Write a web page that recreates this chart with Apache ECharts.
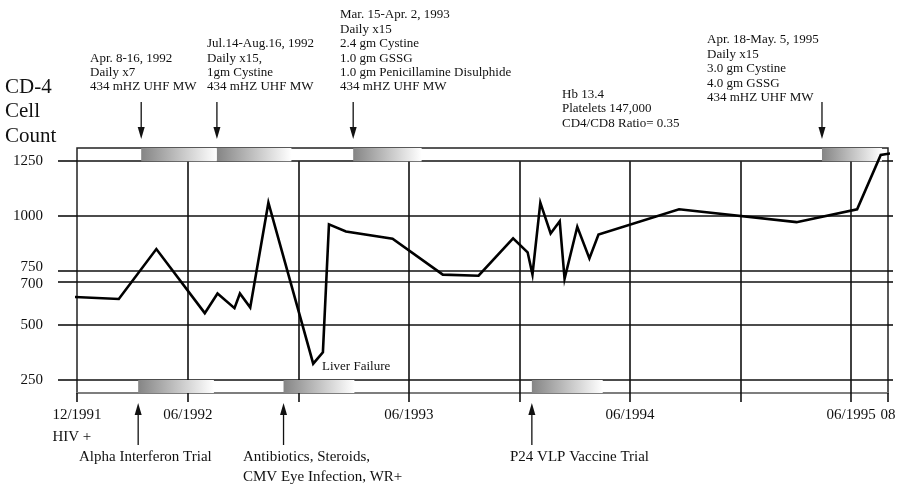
<!DOCTYPE html>
<html><head><meta charset="utf-8">
<script src="https://cdn.jsdelivr.net/npm/echarts@6/dist/echarts.min.js"></script>
<style>html,body{margin:0;padding:0;background:#fff}#c{width:902px;height:485px}</style>
</head><body><div id="c"></div>
<script>
// ---- data ----
const dates = ['1991-11-18','1992-02-08','1992-04-10','1992-06-29','1992-07-20','1992-08-17','1992-08-26','1992-09-12','1992-10-12','1992-12-25','1993-01-10','1993-01-20','1993-02-17','1993-05-05','1993-07-27','1993-09-24','1993-11-20','1993-12-14','1993-12-22','1994-01-04','1994-01-21','1994-02-05','1994-02-13','1994-03-06','1994-03-26','1994-04-10','1994-08-21','1995-03-03','1995-06-11','1995-07-20','1995-08-23'];
const cd4 = [630,620,848,555,645,578,645,581,1060,324,376,961,928,895,731,726,897,833,732,1060,919,975,712,950,805,914,1030,971,1030,1278,1293];

const yTicks = [250,500,700,750,1000,1250];
const xTickDates = ['1991-12-01','1992-06-01','1992-12-01','1993-06-01','1993-12-01','1994-06-01','1994-12-01','1995-06-01','1995-08-01'];
const xInnerGridDates = ['1992-06-01','1992-12-01','1993-06-01','1993-12-01','1994-06-01','1994-12-01','1995-06-01'];
const xLabelDates = ['1991-12-01','1992-06-01','1993-06-01','1994-06-01','1995-06-01','1995-08-01'];
const xLabelTexts = ['12/1991\nHIV +','06/1992','06/1993','06/1994','06/1995','08'];

const topBarStart = ['1992-03-16','1992-07-19','1993-03-01','1995-04-14'];
const topBarEnd   = ['1992-07-19','1992-11-19','1993-06-22','1995-07-22'];
const bottomBarStart = ['1992-03-11','1992-11-06','1993-12-21'];
const bottomBarEnd   = ['1992-07-14','1993-03-03','1994-04-17'];

const topNotes = [
  ['Apr. 8-16, 1992','Daily x7','434 mHZ UHF MW'],
  ['Jul.14-Aug.16, 1992','Daily x15,','1gm Cystine','434 mHZ UHF MW'],
  ['Mar. 15-Apr. 2, 1993','Daily x15','2.4 gm Cystine','1.0 gm GSSG','1.0 gm Penicillamine Disulphide','434 mHZ UHF MW'],
  ['Hb 13.4','Platelets 147,000','CD4/CD8 Ratio= 0.35'],
  ['Apr. 18-May. 5, 1995','Daily x15','3.0 gm Cystine','4.0 gm GSSG','434 mHZ UHF MW']
];
const bottomNotes = [['Alpha Interferon Trial'],['Antibiotics, Steroids,','CMV Eye Infection, WR+'],['P24 VLP Vaccine Trial']];
const yTitle = ['CD-4','Cell','Count'];
const liverNote = 'Liver Failure';

// ---- layout ----
const FONT = '"Liberation Serif","Times New Roman",serif';
const INK = '#111';
const Y_MIN = 190, Y_MAX = 1310;
const ts = d => { const p = d.split('-').map(Number); return Date.UTC(p[0], p[1]-1, p[2]); };

const chart = echarts.init(document.getElementById('c'), null, {renderer:'canvas'});

const barGrad = {type:'linear', x:0, y:0, x2:1, y2:0, colorStops:[{offset:0,color:'#858585'},{offset:1,color:'#ffffff'}]};

const hLines = yTicks.map(v => ({yAxis: v}));
const vLines = xInnerGridDates.map(d => [{coord:[ts(d), 1250]}, {coord:[ts(d), Y_MIN]}]);
const areas = [];
topBarStart.forEach((d,i) => areas.push([{xAxis: ts(d), yAxis: 1250, itemStyle:{color: barGrad}}, {xAxis: ts(topBarEnd[i]), yAxis: Y_MAX}]));
bottomBarStart.forEach((d,i) => areas.push([{xAxis: ts(d), yAxis: Y_MIN, itemStyle:{color: barGrad}}, {xAxis: ts(bottomBarEnd[i]), yAxis: 250}]));

const labelTs = xLabelDates.map(ts);

chart.setOption({
  animation: false,
  backgroundColor: '#fff',
  grid: {left: 77, right: 14, top: 148, bottom: 92, show: true, borderColor: '#222', borderWidth: 1.5, backgroundColor: 'transparent'},
  xAxis: {
    type: 'value', min: ts('1991-12-01'), max: ts('1995-08-01'), scale: true,
    axisLine: {show: true, lineStyle: {color: '#8a8a8a', width: 1.5}},
    axisTick: {show: true, length: 9, customValues: xTickDates.map(ts), lineStyle: {color: INK, width: 1.6}},
    splitLine: {show: false},
    axisLabel: {
      customValues: labelTs, margin: 11, fontFamily: FONT, fontSize: 15, color: INK, lineHeight: 22,
      showMinLabel: true, showMaxLabel: true, hideOverlap: false,
      formatter: v => {
        const i = labelTs.indexOf(v);
        if (i === 0) return '{l|12/1991}\n{l|HIV +}';
        return i >= 0 ? xLabelTexts[i] : '';
      },
      rich: {
        l: {align: 'left', fontFamily: FONT, fontSize: 15, color: INK, lineHeight: 22}
      }
    }
  },
  yAxis: [{
    type: 'value', min: Y_MIN, max: Y_MAX,
    axisLine: {show: false},
    axisTick: {show: true, length: 19, customValues: yTicks, lineStyle: {color: INK, width: 1.6}},
    splitLine: {show: false},
    axisLabel: {
      customValues: yTicks, margin: 34, fontFamily: FONT, fontSize: 15, color: INK,
      formatter: v => v === 750 ? '{u|750}' : (v === 700 ? '{d|700}' : String(v)),
      rich: {
        u: {padding: [0, 0, 6, 0], fontFamily: FONT, fontSize: 15, color: INK},
        d: {padding: [6, 0, 0, 0], fontFamily: FONT, fontSize: 15, color: INK}
      }
    }
  }, {
    type: 'value', min: Y_MIN, max: Y_MAX, position: 'right',
    axisLine: {show: false},
    axisTick: {show: true, length: 5, customValues: yTicks, lineStyle: {color: INK, width: 1.6}},
    axisLabel: {show: false}, splitLine: {show: false}
  }],
  series: [
    {
      type: 'line', data: [], z: 1, silent: true,
      markLine: {
        z: 1, silent: true, symbol: ['none','none'], label: {show: false},
        lineStyle: {type: 'solid', color: INK, width: 1.6},
        emphasis: {disabled: true},
        data: hLines.concat(vLines)
      }
    },
    {
      type: 'line', data: [], z: 2, silent: true,
      markArea: {z: 2, silent: true, itemStyle: {borderWidth: 0}, emphasis: {disabled: true}, data: areas}
    },
    {
      type: 'line', name: 'CD-4', z: 10, clip: false, showSymbol: false, symbol: 'none',
      lineStyle: {color: '#000', width: 2.6, join: 'miter'},
      data: dates.map((d,i) => [ts(d), cd4[i]])
    }
  ]
});

// ---- annotations ----
const px = d => chart.convertToPixel({xAxisIndex: 0}, ts(d));
const g = [];
function arrowDown(x, y1, y2) {
  g.push({type:'line', shape:{x1:x, y1:y1, x2:x, y2:y2-10}, style:{stroke:INK, lineWidth:1.3}, z:20});
  g.push({type:'polygon', shape:{points:[[x-3.5,y2-12],[x+3.5,y2-12],[x,y2]]}, style:{fill:INK}, z:20});
}
function arrowUp(x, y1, y2) {
  g.push({type:'line', shape:{x1:x, y1:y1+10, x2:x, y2:y2}, style:{stroke:INK, lineWidth:1.3}, z:20});
  g.push({type:'polygon', shape:{points:[[x-3.5,y1+12],[x+3.5,y1+12],[x,y1]]}, style:{fill:INK}, z:20});
}
topBarStart.forEach(d => arrowDown(px(d), 102, 139));
bottomBarStart.forEach(d => arrowUp(px(d), 403, 445));

const noteX = [90, 207, 340, 562, 707];
const noteTop = [51, 36.6, 7.8, 87.3, 32.8];
topNotes.forEach((lines, i) => g.push({
  type:'text', x: noteX[i], y: noteTop[i], z: 20,
  style:{text: lines.join('\n'), fill: INK, font: '13px ' + FONT, lineHeight: 14.4, align:'left', verticalAlign:'top'}
}));
const bnX = [79, 243, 510];
bottomNotes.forEach((lines, i) => g.push({
  type:'text', x: bnX[i], y: 447, z: 20,
  style:{text: lines.join('\n'), fill: INK, font: '15px ' + FONT, lineHeight: 20, align:'left', verticalAlign:'top'}
}));
g.push({type:'text', x: 5, y: 75, z: 20,
  style:{text: yTitle.join('\n'), fill: INK, font: '21px ' + FONT, lineHeight: 24.5, align:'left', verticalAlign:'top'}});
g.push({type:'text', x: 322, y: 360, z: 20,
  style:{text: liverNote, fill: INK, font: '13px ' + FONT, lineHeight: 14, align:'left', verticalAlign:'top'}});

chart.setOption({graphic: {elements: g}});
</script>
</body></html>
